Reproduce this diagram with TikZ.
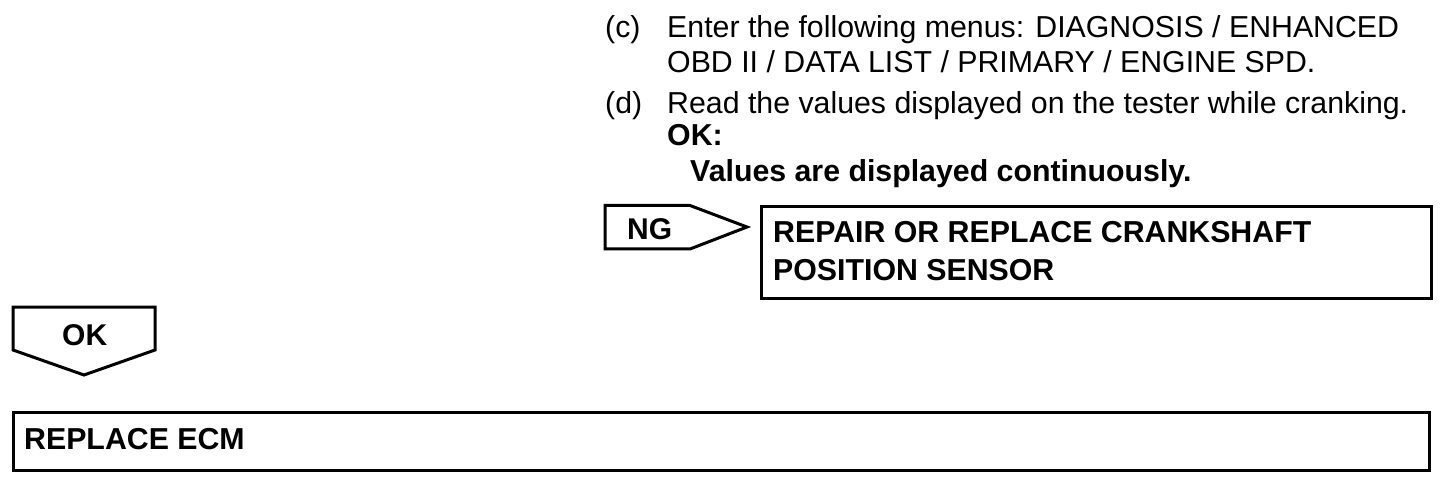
\documentclass[tikz,border=0pt]{standalone}
\usepackage{fontspec}
\setmainfont{Liberation Sans}
\begin{document}
\begin{tikzpicture}[x=1pt,y=-1pt,
  txt/.style={anchor=base west,inner sep=0pt,font=\fontsize{30.3}{36}\selectfont},
  btxt/.style={txt,font=\fontsize{30.3}{36}\selectfont\bfseries},
  lbl/.style={anchor=base west,inner sep=0pt,font=\fontsize{30}{34}\selectfont\bfseries},
  frame/.style={draw,line width=3pt,inner sep=0pt,anchor=north west},
  outline/.style={draw,line width=3pt,line join=miter}]
\useasboundingbox (0,0) rectangle (1456,486);
% text block
\node[txt] (c) at (605,38) {(c)};
\node[txt] (c1) at (667,38) {Enter the following menus: DIAGNOSIS / ENHANCED};
\node[txt] (c2) at (667,73) {OBD II / DATA LIST / PRIMARY / ENGINE SPD.};
\node[txt] (d) at (605,114) {(d)};
\node[txt] (d1) at (667,114) {Read the values displayed on the tester while cranking.};
\node[btxt] (ok1) at (667,146) {OK:};
\node[btxt] (ok2) at (690,182) {Values are displayed continuously.};
% NG arrow
\draw[outline] (605,205.5) -- (690,205.5) -- (747,227) -- (690,249) -- (605,249) -- cycle;
\node[lbl] (ng) at (627,240) {NG};
% repair box
\node[frame,minimum width=670pt,minimum height=92pt] (rep) at (760,205) {};
\node[btxt] (rep1) at (773,243) {REPAIR OR REPLACE CRANKSHAFT};
\node[btxt] (rep2) at (773,280) {POSITION SENSOR};
% OK arrow
\draw[outline] (13,307) -- (155,307) -- (155,350) -- (84,375) -- (13,350) -- cycle;
\node[lbl] (ok) at (62,345) {OK};
% replace ECM box
\node[frame,minimum width=1416pt,minimum height=58pt] (ecm) at (12,411) {};
\node[btxt] (ecm1) at (24,449) {REPLACE ECM};
\end{tikzpicture}
\end{document}
